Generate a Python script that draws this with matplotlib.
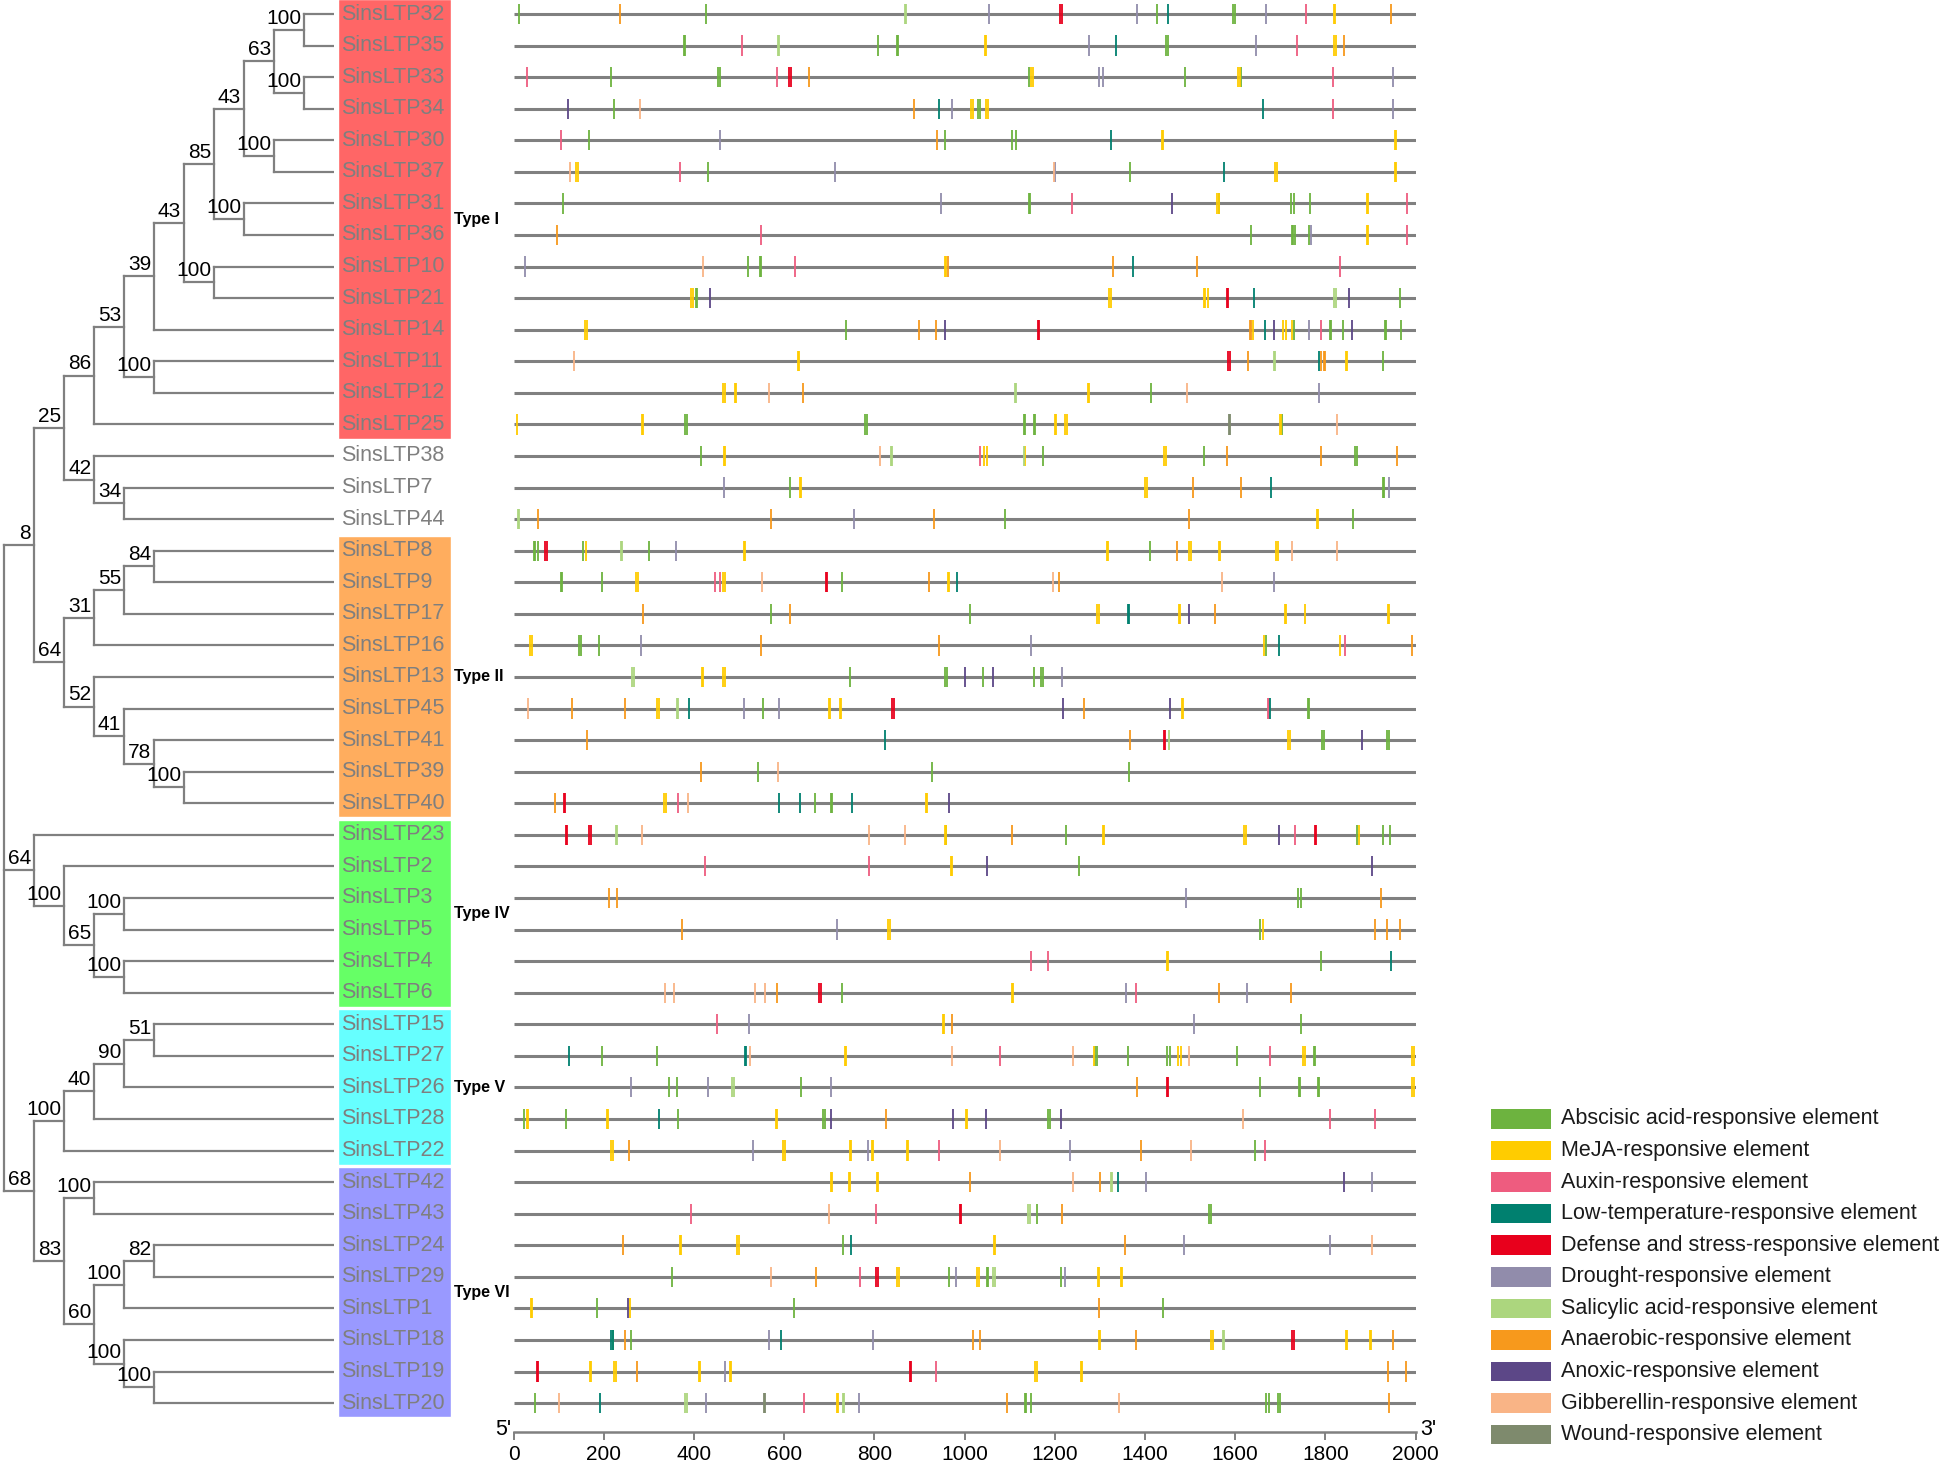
import matplotlib.pyplot as plt
from matplotlib.patches import Rectangle

# gene order (top -> bottom), same as the leaf order of the tree
genes = ["SinsLTP32", "SinsLTP35", "SinsLTP33", "SinsLTP34", "SinsLTP30", "SinsLTP37",
         "SinsLTP31", "SinsLTP36", "SinsLTP10", "SinsLTP21", "SinsLTP14", "SinsLTP11",
         "SinsLTP12", "SinsLTP25", "SinsLTP38", "SinsLTP7", "SinsLTP44", "SinsLTP8",
         "SinsLTP9", "SinsLTP17", "SinsLTP16", "SinsLTP13", "SinsLTP45", "SinsLTP41",
         "SinsLTP39", "SinsLTP40", "SinsLTP23", "SinsLTP2", "SinsLTP3", "SinsLTP5",
         "SinsLTP4", "SinsLTP6", "SinsLTP15", "SinsLTP27", "SinsLTP26", "SinsLTP28",
         "SinsLTP22", "SinsLTP42", "SinsLTP43", "SinsLTP24", "SinsLTP29", "SinsLTP1",
         "SinsLTP18", "SinsLTP19", "SinsLTP20"]

# neighbour-joining tree with bootstrap values (numbers = SinsLTP id)
newick = ("(("
          "(((((((((32,35)100,(33,34)100)63,(30,37)100)43,(31,36)100)85,(10,21)100)43,14)39,"
          "(11,12)100)53,25)86,(38,(7,44)34)42)25,"
          "((((8,9)84,17)55,16)31,(13,(45,(41,(39,40)100)78)41)52)64)8,"
          "(23,(2,((3,5)100,(4,6)100)65)100)64,"
          "(((((15,27)51,26)90,28)40,22)100,"
          "((42,43)100,(((24,29)82,1)100,(18,(19,20)100)100)60)83)68)")

# cis-elements per gene: <code><position in bp>, '+' = two overlapping motifs
elements = [
    "A12 N236 A427 S868+ R1053 D1212+ R1383 A1426 L1451 A1596+ R1669 X1756 M1818+ N1945",
    "A377+ X507 S586+ A809 A850+ M1045+ R1275 L1336 A1447+ R1647 X1737 M1820+ N1841",
    "X30 A215 A454+ X584 D611+ N655 A1143 M1148+ R1297 R1307 A1489 M1607+ A1613 X1817 R1950",
    "O121 A222 G281 N888 L943 R973 M1015+ A1029 A1035 M1048+ L1661 X1817 R1950",
    "X106 A167 R457 N939 A956 A1106 A1114 L1325 M1437+ M1954+",
    "G126 M139+ X370 A431 R713 G1198 R1201 A1366 L1576 M1689+ M1954+",
    "A110 R948 A1142+ X1238 O1459 M1560+ A1565 A1724 A1731 A1765 M1892+ X1980",
    "N96 X549 A1636 A1726+ A1732 A1764 R1768 M1892+ X1980",
    "R26 G419 A520 A546+ X624 M956+ N963 N1330 L1374 N1515 X1833",
    "M394+ A404+ O435 M1321+ M1531+ M1540 D1582+ L1642 S1820+ O1852 A1965",
    "M159+ A738 N898 N936 O957 D1163+ N1632+ M1639 L1665 O1686 M1707 M1712 M1727 A1731 "
    "R1764 X1790 A1810+ A1839 O1858 A1932+ A1967",
    "G134 M630+ D1585+ N1628 S1686+ L1786 N1791 N1797+ M1846+ A1928",
    "M465+ M491+ G566 N641 S1111+ M1273+ A1413 G1494 R1785",
    "M7 M284+ A381+ A780+ A1132+ A1154+ M1200+ M1223+ W1586+ M1699+ A1704 G1825",
    "A415 M466+ G813 S836+ X1035 M1044 M1049 S1131 M1135 A1173 M1443+ A1530 N1581 N1791 A1866+ N1958",
    "R466 A613 M634+ M1401+ N1506 N1613 L1680 A1928+ R1942",
    "S9+ N53 N570 R754 N932 A1090 N1497 M1781+ A1862",
    "A45+ A54 D70+ A154 M160 S238+ A301 R359 M510+ M1315+ A1412 N1472 M1498+ M1564+ M1691+ G1725 G1825",
    "A104+ A197 M272+ X446 X458 M465+ G550 D693+ A729 N921 M963+ L984 G1196 N1209 G1571 R1685",
    "N288 A571 N612 A1013 M1294+ L1362+ M1475+ O1498 N1555 M1710+ M1754 M1938+",
    "M37+ A146+ A190 R282 N549 N944 R1148 M1663 A1669 L1697 M1832 X1844 N1993",
    "S263+ M418+ M465+ A746 A957+ O1001 A1041 O1064 A1153 A1170+ R1216",
    "G32 N130 N248 M319+ S362+ L389 R511 A554 R588 M699+ M724+ D840+ O1219 N1265 O1455 M1481+ "
    "X1673+ L1677 A1761+",
    "N162 L823 N1367 D1442+ S1454 M1718+ A1793+ O1881 A1937+",
    "N415 A541 G587 A928 A1364",
    "N92 D112+ M334+ X365 G386 L588 L636 A668 A703+ L750 M914+ O965",
    "D116+ D168+ S226+ G284 G789 G868 M956+ A959 N1106 A1224 M1307+ M1620+ O1697 X1733 D1777+ "
    "A1871 M1875 A1928 A1944",
    "X424 X788 M969+ O1049 A1254 O1903",
    "N211 N229 R1491 A1740 A1747 N1923",
    "N373 R716 M831+ A1656 M1661 N1909 N1936 N1966",
    "X1148 X1185 M1448+ A1791 L1945",
    "G335 G355 G536 G558 N583 D678+ A728 M1104+ R1358 X1380 N1565 R1627 N1723",
    "X452 R523 M952+ N972 R1509 A1745",
    "L123 A196 A319 L512+ G525 M735+ G973 X1078 G1240 M1287 A1290+ A1363 A1448 A1455 M1473 M1480 "
    "G1497 A1603 X1677 M1751+ A1775+ M1993+",
    "R261 A345 A362 R431 S485+ A637 R703 N1382 D1448+ A1656 A1741+ A1783+ M1993+",
    "A24 M30+ A116 M207+ L323 A364 M582+ A687+ O703 N825 O974 M1003+ O1048 A1186+ O1213 G1617 X1811 X1909",
    "M217+ N255 R531 M598+ M746+ R785 M794+ M872+ X943 G1079 R1233 N1392 G1502 A1643 X1665",
    "M703+ M743+ M806+ N1012 G1240 N1301 S1324+ L1341 R1403 O1841 R1904",
    "X393 G700 X804 D990+ S1141+ A1160 N1215 A1542 A1547",
    "N243 M368+ M496+ A731 L749 M1065+ N1355 R1487 R1810 G1903",
    "A352 G570 N671 X767 D804+ M851+ A965 R980 M1028+ A1049+ S1064+ A1213 R1223 M1296+ M1347+",
    "M38+ A184 O253 M257 A621 N1299 A1441",
    "L217+ A220 N247 A261 R566 L594 R798 N1018 N1035 M1297+ N1380 M1547+ S1573+ D1727+ M1845+ M1899+ N1949",
    "D51+ M169+ M223+ N273 M411+ R469 M479+ D879+ X936 M1157+ M1257+ N1938 N1979",
    "A47 G100 L191 S381+ R426 W555+ X645 M717+ S730+ R766 N1094 A1133+ A1147 G1342 A1669 A1675 A1696+ N1940",
]

element_codes = ["A", "M", "X", "L", "D", "R", "S", "N", "O", "G", "W"]
element_names = ["Abscisic acid-responsive element", "MeJA-responsive element",
                 "Auxin-responsive element", "Low-temperature-responsive element",
                 "Defense and stress-responsive element", "Drought-responsive element",
                 "Salicylic acid-responsive element", "Anaerobic-responsive element",
                 "Anoxic-responsive element", "Gibberellin-responsive element",
                 "Wound-responsive element"]
element_colors = ["#6DB33F", "#FFCC00", "#EE5C7F", "#00806F", "#E8001C", "#918CAB",
                  "#ACD67E", "#F7991C", "#5C4787", "#F9B486", "#7E8A6D"]

type_names = ["Type I", "Type II", "Type IV", "Type V", "Type VI"]
type_first = ["SinsLTP32", "SinsLTP8", "SinsLTP23", "SinsLTP15", "SinsLTP42"]
type_last = ["SinsLTP25", "SinsLTP40", "SinsLTP6", "SinsLTP22", "SinsLTP20"]
type_colors = ["#FF6666", "#FFAD5E", "#66FF66", "#66FFFF", "#9999FF"]

xticks = [0, 200, 400, 600, 800, 1000, 1200, 1400, 1600, 1800, 2000]
seq_len = 2000

GREY = "#808080"
plt.rcParams['font.family'] = ['Liberation Sans', 'DejaVu Sans']

W, H = 1944, 1468
fig = plt.figure(figsize=(W / 100, H / 100), dpi=100)

ROW = 31.57          # px per gene row
TOP = 14             # px of first row centre
AXIS_Y = 1432        # px of the position axis


def px_axes(x0, x1):
    return fig.add_axes([x0 / W, 1 - AXIS_Y / H, (x1 - x0) / W, AXIS_Y / H])


ylim = ((AXIS_Y - TOP) / ROW, -TOP / ROW)
ax_tree = px_axes(0, 334)
ax_lab = px_axes(338, 513.6)
ax_trk = px_axes(513.6, 1415.6)
ax_leg = px_axes(1491, W)
for ax in (ax_tree, ax_lab, ax_trk, ax_leg):
    ax.set_ylim(*ylim)
    ax.set_facecolor('none')

# ---- tree ----
def parse(s):
    i = 0

    def node():
        nonlocal i
        if s[i] == '(':
            i += 1
            kids = [node()]
            while s[i] == ',':
                i += 1
                kids.append(node())
            i += 1
            j = i
            while i < len(s) and s[i] not in ',()':
                i += 1
            return {'kids': kids, 'label': s[j:i]}
        j = i
        while s[i] not in ',()':
            i += 1
        return {'name': 'SinsLTP' + s[j:i]}
    return node()


root = parse(newick)
LEAF_X = 11


def layout(n, depth):
    n['x'] = depth
    if 'name' in n:
        n['x'] = LEAF_X
        n['y'] = genes.index(n['name'])
    else:
        for k in n['kids']:
            layout(k, depth + 1)
        n['y'] = (n['kids'][0]['y'] + n['kids'][-1]['y']) / 2


layout(root, 0)


def draw(n):
    if 'kids' not in n:
        return
    ys = [k['y'] for k in n['kids']]
    ax_tree.plot([n['x'], n['x']], [min(ys), max(ys)], color=GREY, lw=1.6,
                 solid_capstyle='projecting')
    for k in n['kids']:
        ax_tree.plot([n['x'], k['x']], [k['y'], k['y']], color=GREY, lw=1.6,
                     solid_capstyle='projecting')
        draw(k)
    if n.get('label'):
        ax_tree.annotate(n['label'], (n['x'], n['y']), xytext=(-2, 1.5),
                         textcoords='offset points', ha='right', va='bottom',
                         fontsize=15, color='black')


draw(root)
ax_tree.set_xlim(-4 / 30, LEAF_X)
ax_tree.axis('off')

# ---- labels and type boxes ----
ax_lab.set_xlim(0, 175.6)
ax_lab.axis('off')
for name, first, last, col in zip(type_names, type_first, type_last, type_colors):
    i0, i1 = genes.index(first), genes.index(last)
    ax_lab.add_patch(Rectangle((0, i0 - 0.47), 113, i1 - i0 + 0.92,
                               facecolor=col, edgecolor='white', lw=1.0))
    ax_lab.text(116, (i0 + i1) / 2, name, fontsize=11.5, fontweight='bold',
                va='center', ha='left', color='black')
for i, g in enumerate(genes):
    ax_lab.text(3, i, g, fontsize=15.5, color='#7F7F7F', va='center', ha='left')

# ---- promoter tracks ----
for i in range(len(genes)):
    ax_trk.plot([0, seq_len], [i, i], color=GREY, lw=2.2, solid_capstyle='butt', zorder=1)

marks = {c: ([], []) for c in element_codes}
for i, s in enumerate(elements):
    for tok in s.split():
        p = float(tok[1:].rstrip('+'))
        for q in ([p, p + 3] if tok.endswith('+') else [p]):
            marks[tok[0]][0].append(q)
            marks[tok[0]][1].append(i)
for c, col in zip(element_codes, element_colors):
    xs, ys = marks[c]
    ax_trk.vlines(xs, [y - 0.32 for y in ys], [y + 0.32 for y in ys], color=col,
                  lw=1.3, zorder=2, clip_on=False)

ax_trk.set_xlim(0, seq_len)
for sp in ('top', 'right', 'left'):
    ax_trk.spines[sp].set_visible(False)
ax_trk.spines['bottom'].set_color(GREY)
ax_trk.spines['bottom'].set_linewidth(1.8)
ax_trk.set_yticks([])
ax_trk.set_xticks(xticks)
ax_trk.tick_params(axis='x', direction='out', length=6, width=1.4, color=GREY, pad=3)
narrow = ['Liberation Sans Narrow', 'Liberation Sans', 'DejaVu Sans']
ax_trk.set_xticklabels([str(t) for t in xticks], family=narrow, fontsize=15)
tr = ax_trk.get_xaxis_transform()
ax_trk.annotate("5'", (0, 0), xycoords=tr, xytext=(-2, 2), textcoords='offset points',
                ha='right', va='center', family=narrow, fontsize=15.5)
ax_trk.annotate("3'", (seq_len, 0), xycoords=tr, xytext=(3, 2), textcoords='offset points',
                ha='left', va='center', family=narrow, fontsize=15.5)

# ---- legend ----
ax_leg.set_xlim(0, W - 1491)
ax_leg.axis('off')
for k, (nm, col) in enumerate(zip(element_names, element_colors)):
    y = 35 + k
    ax_leg.add_patch(Rectangle((0, y - 0.31), 60, 0.62, facecolor=col, edgecolor='none',
                               clip_on=False))
    ax_leg.text(70, y, nm, fontsize=15.5, color='#1A1A1A', va='center', ha='left',
                clip_on=False)

fig.savefig('out.png', dpi=100)
